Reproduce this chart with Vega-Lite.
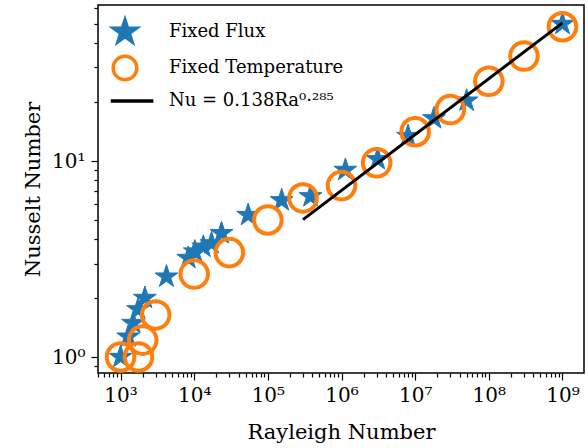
{
  "$schema": "https://vega.github.io/schema/vega-lite/v6.json",
  "width": 486,
  "height": 368,
  "autosize": {"type": "none"},
  "padding": {"left": 98, "top": 5, "right": 4, "bottom": 75},
  "background": "white",
  "config": {
    "view": {"stroke": "black", "strokeWidth": 1.5},
    "axis": {
      "domain": false,
      "grid": false,
      "tickColor": "black",
      "tickWidth": 1.2,
      "labelColor": "black",
      "labelFont": "DejaVu Serif",
      "labelFontSize": 20,
      "titleFont": "DejaVu Serif",
      "titleFontSize": 21,
      "titleFontWeight": "normal",
      "titleColor": "black",
      "labelOverlap": false,
      "labelFlush": false
    },
    "legend": {
      "title": null,
      "orient": "top-left",
      "offset": 13,
      "labelFont": "DejaVu Serif",
      "labelFontSize": 18,
      "labelColor": "black",
      "labelLimit": 400,
      "symbolSize": 560,
      "symbolStrokeWidth": 3.5,
      "symbolOpacity": 1,
      "rowPadding": 0,
      "labelOffset": 30
    }
  },
  "data": {
    "values": [
      {"series": "Fixed Flux", "Ra": 1000, "Nu": 1.0},
      {"series": "Fixed Flux", "Ra": 1270, "Nu": 1.27},
      {"series": "Fixed Flux", "Ra": 1480, "Nu": 1.49},
      {"series": "Fixed Flux", "Ra": 1730, "Nu": 1.75},
      {"series": "Fixed Flux", "Ra": 2140, "Nu": 2.0},
      {"series": "Fixed Flux", "Ra": 4200, "Nu": 2.57},
      {"series": "Fixed Flux", "Ra": 8300, "Nu": 3.2},
      {"series": "Fixed Flux", "Ra": 10200, "Nu": 3.45},
      {"series": "Fixed Flux", "Ra": 13300, "Nu": 3.65},
      {"series": "Fixed Flux", "Ra": 17200, "Nu": 3.8},
      {"series": "Fixed Flux", "Ra": 23500, "Nu": 4.28},
      {"series": "Fixed Flux", "Ra": 54000, "Nu": 5.3},
      {"series": "Fixed Flux", "Ra": 154000, "Nu": 6.3},
      {"series": "Fixed Flux", "Ra": 380000, "Nu": 6.6},
      {"series": "Fixed Flux", "Ra": 1130000, "Nu": 9.0},
      {"series": "Fixed Flux", "Ra": 3100000, "Nu": 10.2},
      {"series": "Fixed Flux", "Ra": 8000000, "Nu": 13.4},
      {"series": "Fixed Flux", "Ra": 18000000, "Nu": 16.5},
      {"series": "Fixed Flux", "Ra": 50000000, "Nu": 20.3},
      {"series": "Fixed Flux", "Ra": 1000000000, "Nu": 50.0},
      {"series": "Fixed Temperature", "Ra": 1000, "Nu": 1.0},
      {"series": "Fixed Temperature", "Ra": 1750, "Nu": 1.0},
      {"series": "Fixed Temperature", "Ra": 2000, "Nu": 1.22},
      {"series": "Fixed Temperature", "Ra": 3000, "Nu": 1.64},
      {"series": "Fixed Temperature", "Ra": 10000, "Nu": 2.65},
      {"series": "Fixed Temperature", "Ra": 30000, "Nu": 3.41},
      {"series": "Fixed Temperature", "Ra": 100000, "Nu": 5.0},
      {"series": "Fixed Temperature", "Ra": 300000, "Nu": 6.48},
      {"series": "Fixed Temperature", "Ra": 1000000, "Nu": 7.49},
      {"series": "Fixed Temperature", "Ra": 3000000, "Nu": 9.79},
      {"series": "Fixed Temperature", "Ra": 10000000, "Nu": 14.1},
      {"series": "Fixed Temperature", "Ra": 30000000, "Nu": 18.3},
      {"series": "Fixed Temperature", "Ra": 100000000, "Nu": 25.5},
      {"series": "Fixed Temperature", "Ra": 300000000, "Nu": 34.3},
      {"series": "Fixed Temperature", "Ra": 1000000000, "Nu": 48.4},
      {"series": "Nu = 0.138Ra⁰·²⁸⁵", "Ra": 300000, "Nu": 5.022},
      {"series": "Nu = 0.138Ra⁰·²⁸⁵", "Ra": 1000000000, "Nu": 50.69}
    ]
  },
  "encoding": {
    "x": {
      "field": "Ra",
      "type": "quantitative",
      "title": "Rayleigh Number",
      "scale": {"type": "log", "domain": [494, 1960000000], "nice": false, "zero": false},
      "axis": {
        "values": [500, 600, 700, 800, 900, 1000, 2000, 3000, 4000, 5000, 6000, 7000, 8000, 9000, 10000, 20000, 30000, 40000, 50000, 60000, 70000, 80000, 90000, 100000, 200000, 300000, 400000, 500000, 600000, 700000, 800000, 900000, 1000000, 2000000, 3000000, 4000000, 5000000, 6000000, 7000000, 8000000, 9000000, 10000000, 20000000, 30000000, 40000000, 50000000, 60000000, 70000000, 80000000, 90000000, 100000000, 200000000, 300000000, 400000000, 500000000, 600000000, 700000000, 800000000, 900000000, 1000000000],
        "tickSize": {"condition": {"test": "abs(log(datum.value)/LN10 - round(log(datum.value)/LN10)) < 0.001", "value": 7}, "value": 4},
        "labelExpr": "abs(log(datum.value)/LN10 - round(log(datum.value)/LN10)) < 0.001 ? '10' + substring('⁰¹²³⁴⁵⁶⁷⁸⁹', round(log(datum.value)/LN10), round(log(datum.value)/LN10) + 1) : ''",
        "labelPadding": 5,
        "titlePadding": 16
      }
    },
    "y": {
      "field": "Nu",
      "type": "quantitative",
      "title": "Nusselt Number",
      "scale": {"type": "log", "domain": [0.829, 62.5], "nice": false, "zero": false},
      "axis": {
        "values": [0.9, 1, 2, 3, 4, 5, 6, 7, 8, 9, 10, 20, 30, 40, 50, 60],
        "tickSize": {"condition": {"test": "abs(log(datum.value)/LN10 - round(log(datum.value)/LN10)) < 0.001", "value": 7}, "value": 4},
        "labelExpr": "abs(log(datum.value)/LN10 - round(log(datum.value)/LN10)) < 0.001 ? '10' + substring('⁰¹²³⁴⁵⁶⁷⁸⁹', round(log(datum.value)/LN10), round(log(datum.value)/LN10) + 1) : ''",
        "labelPadding": 6,
        "titlePadding": 8
      }
    }
  },
  "layer": [
    {
      "transform": [{"filter": "datum.series === 'Fixed Flux'"}],
      "mark": {"type": "point", "size": 576, "strokeWidth": 1, "opacity": 1},
      "encoding": {
        "fill": {
          "field": "series",
          "type": "nominal",
          "scale": {"domain": ["Fixed Flux", "Fixed Temperature", "Nu = 0.138Ra⁰·²⁸⁵"], "range": ["#1f77b4", "transparent", "transparent"]},
          "legend": {
            "encode": {
              "labels": {
                "font": {"condition": {"test": "datum.value === 'Nu = 0.138Ra⁰·²⁸⁵'", "value": "DejaVu Sans"}, "value": "DejaVu Serif"}
              }
            }
          }
        },
        "stroke": {
          "field": "series",
          "type": "nominal",
          "scale": {"domain": ["Fixed Flux", "Fixed Temperature", "Nu = 0.138Ra⁰·²⁸⁵"], "range": ["#1f77b4", "#ff7f0e", "black"]},
          "legend": {
            "encode": {
              "labels": {
                "font": {"condition": {"test": "datum.value === 'Nu = 0.138Ra⁰·²⁸⁵'", "value": "DejaVu Sans"}, "value": "DejaVu Serif"}
              }
            }
          }
        },
        "shape": {
          "field": "series",
          "type": "nominal",
          "scale": {"domain": ["Fixed Flux", "Fixed Temperature", "Nu = 0.138Ra⁰·²⁸⁵"], "range": ["M0,-1L0.2245,-0.309L0.9511,-0.309L0.3633,0.118L0.5878,0.809L0,0.382L-0.5878,0.809L-0.3633,0.118L-0.9511,-0.309L-0.2245,-0.309Z", "circle", "M-1.2,0L2.4,0"]},
          "legend": {
            "encode": {
              "labels": {
                "font": {"condition": {"test": "datum.value === 'Nu = 0.138Ra⁰·²⁸⁵'", "value": "DejaVu Sans"}, "value": "DejaVu Serif"}
              }
            }
          }
        }
      }
    },
    {
      "transform": [{"filter": "datum.series === 'Fixed Temperature'"}],
      "mark": {"type": "point", "size": 760, "strokeWidth": 4, "opacity": 1},
      "encoding": {
        "fill": {"field": "series", "type": "nominal"},
        "stroke": {"field": "series", "type": "nominal"},
        "shape": {"field": "series", "type": "nominal"}
      }
    },
    {
      "transform": [{"filter": "datum.series === 'Nu = 0.138Ra⁰·²⁸⁵'"}],
      "mark": {"type": "line", "strokeWidth": 3},
      "encoding": {
        "stroke": {"field": "series", "type": "nominal"}
      }
    }
  ]
}
